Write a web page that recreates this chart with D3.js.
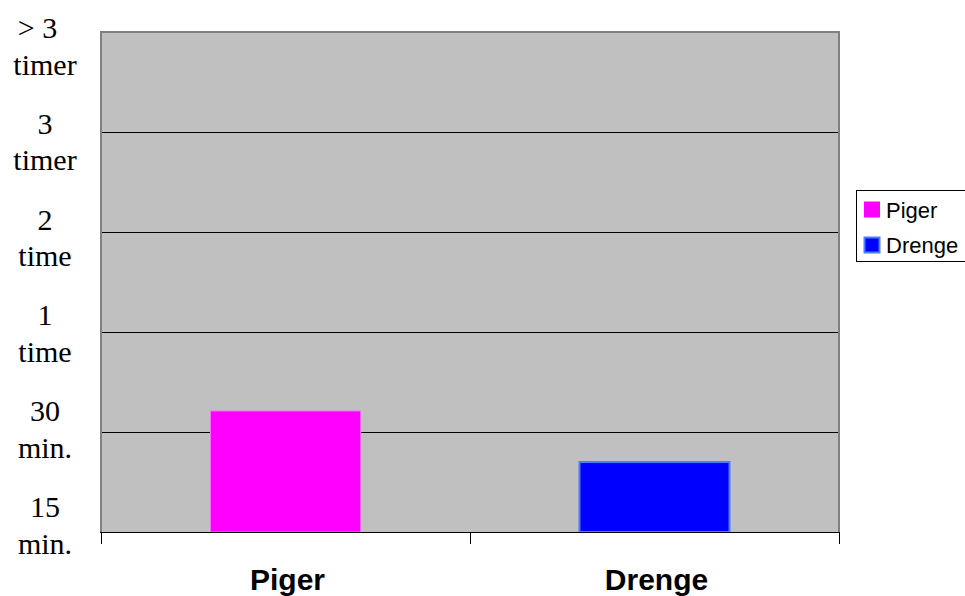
<!DOCTYPE html>
<html>
<head>
<meta charset="utf-8">
<script src="https://cdn.jsdelivr.net/npm/d3@7"></script>
<style>
  html, body { margin: 0; padding: 0; background: #ffffff; }
  svg { display: block; }
</style>
</head>
<body>
<svg id="chart" width="965" height="596"></svg>
<script>
// ---- data ----
const categories = ["Piger", "Drenge"];
const values = [1.21, 0.70];
const seriesNames = ["Piger", "Drenge"];
const fillColors = ["#FF00FF", "#0000FF"];
const strokeColors = ["#FF66FF", "#4D7DFF"];
const tickValues = [0, 1, 2, 3, 4, 5];
const tickLabels = [
  ["15", "min."],
  ["30", "min."],
  ["1", "time"],
  ["2", "time"],
  ["3", "timer"],
  ["> 3\u00a0\u00a0", "timer"]
];

// ---- layout ----
const W = 965, H = 596;
const plot = { left: 101, top: 32, right: 839, bottom: 532 };

const svg = d3.select("#chart");

const x = d3.scaleBand().domain(categories).range([plot.left, plot.right]).padding(0);
const y = d3.scaleLinear().domain([0, 5]).range([plot.bottom, plot.top]);
// label positions (first-line baselines) are spaced slightly tighter than the gridlines
const yLabel = d3.scaleLinear().domain([0, 5]).range([y(0) - 15, y(5) + 6]);

// plot background
svg.append("rect")
  .attr("x", plot.left).attr("y", plot.top)
  .attr("width", plot.right - plot.left).attr("height", plot.bottom - plot.top)
  .attr("fill", "#C0C0C0");

// gridlines
svg.append("g").selectAll("line")
  .data(tickValues.filter(v => v > 0 && v < 5))
  .join("line")
  .attr("x1", plot.left).attr("x2", plot.right)
  .attr("y1", d => Math.round(y(d)) + 0.5).attr("y2", d => Math.round(y(d)) + 0.5)
  .attr("stroke", "#000").attr("stroke-width", 1);

// bars
const barFrac = 150 / 369;
svg.append("g").selectAll("rect")
  .data(values)
  .join("rect")
  .attr("x", (d, i) => x(categories[i]) + x.bandwidth() * (1 - barFrac) / 2)
  .attr("width", x.bandwidth() * barFrac)
  .attr("y", d => y(d))
  .attr("height", d => y(0) - y(d))
  .attr("fill", (d, i) => fillColors[i])
  .attr("stroke", (d, i) => strokeColors[i])
  .attr("stroke-width", (d, i) => i === 1 ? 2 : 1);

// plot border (gray) on left, top, right
svg.append("path")
  .attr("d", `M${plot.left},${plot.bottom} V${plot.top} H${plot.right} V${plot.bottom}`)
  .attr("fill", "none").attr("stroke", "#808080").attr("stroke-width", 2);

// bottom axis line
svg.append("line")
  .attr("x1", plot.left - 1).attr("x2", plot.right + 1)
  .attr("y1", plot.bottom + 0.5).attr("y2", plot.bottom + 0.5)
  .attr("stroke", "#000").attr("stroke-width", 1);

// category boundary ticks
const boundaries = categories.map(c => x(c)).concat([plot.right]);
svg.append("g").selectAll("line")
  .data(boundaries)
  .join("line")
  .attr("x1", d => Math.round(d) + 0.5).attr("x2", d => Math.round(d) + 0.5)
  .attr("y1", plot.bottom).attr("y2", plot.bottom + 12)
  .attr("stroke", "#000").attr("stroke-width", 1);

// category labels
svg.append("g").selectAll("text")
  .data(categories)
  .join("text")
  .attr("x", d => x(d) + x.bandwidth() / 2 + 2)
  .attr("y", 590)
  .attr("text-anchor", "middle")
  .attr("font-family", "Liberation Sans, Arial, sans-serif")
  .attr("font-weight", "bold")
  .attr("font-size", 30)
  .attr("fill", "#000")
  .text(d => d);

// y-axis labels (two lines each)
const yl = svg.append("g").selectAll("text")
  .data(tickValues)
  .join("text")
  .attr("text-anchor", "middle")
  .attr("font-family", "Liberation Serif, Times New Roman, serif")
  .attr("font-size", 30)
  .attr("fill", "#000");
yl.each(function(d, i) {
  const t = d3.select(this);
  tickLabels[i].forEach((line, k) => {
    t.append("tspan")
      .attr("x", 45)
      .attr("y", yLabel(d) + k * 36.5)
      .text(line);
  });
});

// legend
const legend = svg.append("g");
legend.append("rect")
  .attr("x", 856.5).attr("y", 190.5)
  .attr("width", 120).attr("height", 71)
  .attr("fill", "#fff").attr("stroke", "#000").attr("stroke-width", 1);
const items = legend.selectAll("g.item")
  .data(seriesNames)
  .join("g").attr("class", "item")
  .attr("transform", (d, i) => `translate(864, ${201.5 + i * 35.5})`);
items.append("rect")
  .attr("x", (d, i) => i === 1 ? 0.5 : 0)
  .attr("y", (d, i) => i === 1 ? 0.5 : 0)
  .attr("width", (d, i) => i === 1 ? 15 : 16)
  .attr("height", (d, i) => i === 1 ? 15 : 16)
  .attr("fill", (d, i) => fillColors[i])
  .attr("stroke", (d, i) => i === 1 ? strokeColors[i] : "none")
  .attr("stroke-width", 2);
items.append("text")
  .attr("x", 22)
  .attr("y", 16)
  .attr("font-family", "Liberation Sans, Arial, sans-serif")
  .attr("font-size", 22)
  .attr("fill", "#000")
  .text(d => d);
</script>
</body>
</html>
